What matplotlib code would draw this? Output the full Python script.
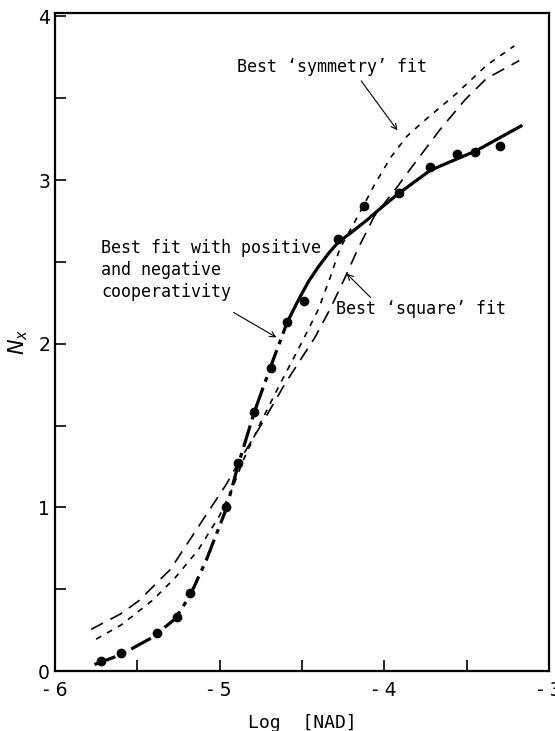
import matplotlib.pyplot as plt
import numpy as np

# measured points (log[NAD], Nx)
pts_x = [-5.72, -5.60, -5.38, -5.26, -5.18, -4.96, -4.89, -4.79, -4.69, -4.59,
         -4.49, -4.28, -4.12, -3.91, -3.72, -3.56, -3.45, -3.30]
pts_y = [0.06, 0.11, 0.23, 0.33, 0.48, 1.00, 1.27, 1.58, 1.85, 2.13,
         2.26, 2.64, 2.84, 2.92, 3.08, 3.16, 3.17, 3.21]

# best fit with positive and negative cooperativity (thick line)
coop_x = [-5.76, -5.60, -5.40, -5.27, -5.18, -5.08, -4.96, -4.89, -4.79, -4.69,
          -4.59, -4.52, -4.46, -4.40, -4.34, -4.28, -4.20, -4.10, -4.02, -3.91,
          -3.72, -3.44, -3.17]
coop_y = [0.04, 0.10, 0.21, 0.32, 0.46, 0.68, 0.99, 1.25, 1.58, 1.86,
          2.13, 2.27, 2.38, 2.47, 2.55, 2.62, 2.68, 2.76, 2.83, 2.92,
          3.06, 3.18, 3.33]

# best 'square' fit (long dashes)
sq_x = [-5.78, -5.60, -5.49, -5.30, -5.13, -4.96, -4.87, -4.75, -4.60, -4.42,
        -4.33, -4.24, -4.16, -4.06, -3.92, -3.84, -3.66, -3.51, -3.38, -3.18]
sq_y = [0.255, 0.35, 0.43, 0.62, 0.88, 1.14, 1.30, 1.50, 1.76, 2.04,
        2.21, 2.40, 2.58, 2.78, 2.96, 3.07, 3.31, 3.49, 3.62, 3.73]

# best 'symmetry' fit (short dashes)
sym_x = [-5.75, -5.60, -5.41, -5.27, -5.13, -5.00, -4.92, -4.86, -4.75, -4.63,
         -4.51, -4.40, -4.33, -4.27, -4.16, -4.06, -3.96, -3.86, -3.76, -3.56,
         -3.38, -3.21]
sym_y = [0.195, 0.28, 0.43, 0.57, 0.74, 0.95, 1.12, 1.28, 1.52, 1.76,
         1.99, 2.21, 2.40, 2.58, 2.78, 2.97, 3.14, 3.27, 3.36, 3.53,
         3.70, 3.82]

xticks = [-6, -5, -4, -3]
xticklabels = ['- 6', '- 5', '- 4', '- 3']
yticks = [0, 1, 2, 3, 4]

plt.rcParams['font.family'] = 'DejaVu Sans'
fig = plt.figure(figsize=(5.55, 7.31), dpi=100)
ax = fig.add_axes([0.099, 0.082, 0.89, 0.900])

# thick fit: dash-dot in lower part, solid above
split = 10
ax.plot(coop_x[:split + 1], coop_y[:split + 1], color='black', lw=2.3,
        linestyle=(0, (7, 2, 1.5, 2)))
ax.plot(coop_x[split:], coop_y[split:], color='black', lw=2.3)
ax.plot(sq_x, sq_y, color='black', lw=1.2, linestyle=(0, (8, 5)))
ax.plot(sym_x, sym_y, color='black', lw=1.2, linestyle=(0, (3.5, 4)))
ax.plot(pts_x, pts_y, 'o', color='black', markersize=6)

ax.set_xlim(-6, -3)
ax.set_ylim(0, 4.02)
ax.set_xticks(xticks)
ax.set_xticklabels(xticklabels)
ax.set_yticks(yticks)
ax.set_xticks(np.arange(-5.5, -3, 1.0), minor=True)
ax.set_yticks(np.arange(0.5, 4, 1.0), minor=True)
ax.tick_params(which='both', direction='in', length=8, width=1.2, labelsize=13.5)
ax.tick_params(axis='x', pad=7)
for s in ax.spines.values():
    s.set_linewidth(1.6)

ax.set_xlabel('Log  [NAD]', fontsize=13, family='DejaVu Sans Mono', labelpad=10)
ax.set_ylabel('$N_x$', fontsize=15, labelpad=6)

mono = 'DejaVu Sans Mono'
ax.text(-3.74, 3.69, 'Best \u2018symmetry\u2019 fit', fontsize=12, family=mono,
        ha='right', va='center')
ax.annotate('', xy=(-3.91, 3.29), xytext=(-4.15, 3.62),
            arrowprops=dict(arrowstyle='->', color='black', lw=0.8))

ax.text(-5.72, 2.64, 'Best fit with positive\nand negative\ncooperativity',
        fontsize=12, family=mono, va='top', linespacing=1.3)
ax.annotate('', xy=(-4.64, 2.03), xytext=(-4.93, 2.20),
            arrowprops=dict(arrowstyle='->', color='black', lw=0.8))

ax.text(-4.29, 2.21, 'Best \u2018square\u2019 fit', fontsize=12, family=mono,
        va='center')
ax.annotate('', xy=(-4.24, 2.44), xytext=(-4.07, 2.27),
            arrowprops=dict(arrowstyle='->', color='black', lw=0.8))

fig.savefig('out.png', dpi=100)
